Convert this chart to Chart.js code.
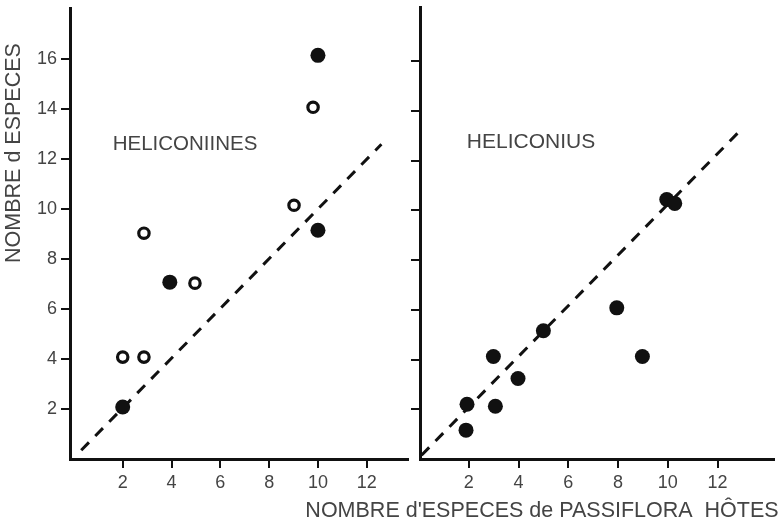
<!DOCTYPE html>
<html>
<head>
<meta charset="utf-8">
<script src="https://cdn.jsdelivr.net/npm/chart.js@4"></script>
<style>
  html, body { margin: 0; padding: 0; background: #fff; }
  #wrap { position: relative; width: 781px; height: 525px; }
  #wrap canvas { position: absolute; left: 0; top: 0; }
</style>
</head>
<body>
<div id="wrap">
  <canvas id="leftChart" width="781" height="525"></canvas>
  <canvas id="rightChart" width="781" height="525"></canvas>
</div>
<script>
// Heliconiines: filled and open circles
const leftFilledX = [2, 3.93, 10, 10];
const leftFilledY = [2.08, 7.08, 16.16, 9.16];
const leftOpenX = [2, 2.87, 2.87, 4.96, 9.02, 9.8];
const leftOpenY = [4.08, 4.08, 9.04, 7.04, 10.16, 14.08];
const leftLineX = [0.3, 12.6];
const leftLineY = [0.35, 12.6];

// Heliconius
const rightX = [1.89, 1.93, 3.07, 2.99, 3.98, 5, 7.95, 8.98, 9.96, 10.28];
const rightY = [1.16, 2.2, 2.12, 4.12, 3.24, 5.16, 6.08, 4.12, 10.44, 10.28];
const rightLineX = [0.1, 13];
const rightLineY = [0.15, 13.3];

const xTicks = [2, 4, 6, 8, 10, 12];
const yTicks = [2, 4, 6, 8, 10, 12, 14, 16];

const ink = '#111';
const textColor = '#444';
const fontFamily = '"Liberation Sans", Arial, sans-serif';

function toPoints(xs, ys) {
    return xs.map((x, i) => ({ x: x, y: ys[i] }));
}

function setTicks(values) {
    return function(scale) {
        scale.ticks = values.map(v => ({ value: v }));
    };
}

function axis(opts) {
    return Object.assign({
        type: 'linear',
        grid: { drawOnChartArea: false, drawTicks: true, tickLength: 9, lineWidth: 2, color: ink },
        border: { display: true, width: 3, color: ink },
        ticks: { color: textColor, font: { family: fontFamily, size: 18 }, padding: 4 }
    }, opts);
}

// draws free text at fixed spots
function textPlugin(items) {
    return {
        id: 'texts',
        afterDraw(chart) {
            const ctx = chart.ctx;
            ctx.save();
            ctx.fillStyle = textColor;
            items.forEach(t => {
                ctx.save();
                ctx.font = t.size + 'px ' + fontFamily;
                ctx.textAlign = 'center';
                ctx.textBaseline = 'middle';
                ctx.translate(t.x, t.y);
                if (t.rotate) ctx.rotate(t.rotate);
                ctx.fillText(t.text, 0, 0);
                ctx.restore();
            });
            ctx.restore();
        }
    };
}

const lineStyle = {
    showLine: true, borderColor: ink, borderWidth: 3, borderDash: [11, 9],
    pointRadius: 0, fill: false, order: 2
};

new Chart(document.getElementById('leftChart'), {
    type: 'scatter',
    data: {
        datasets: [
            Object.assign({ data: toPoints(leftLineX, leftLineY) }, lineStyle),
            { data: toPoints(leftFilledX, leftFilledY), pointRadius: 7.5, backgroundColor: ink, borderWidth: 0, order: 1 },
            { data: toPoints(leftOpenX, leftOpenY), pointRadius: 5.2, backgroundColor: '#fff', borderColor: ink, borderWidth: 3.2, order: 1 }
        ]
    },
    options: {
        responsive: false,
        animation: false,
        layout: { padding: { left: 0, top: 8, right: 373, bottom: 0 } },
        plugins: { legend: { display: false }, tooltip: { enabled: false } },
        scales: {
            x: axis({
                min: -0.16, max: 13.69,
                afterBuildTicks: setTicks(xTicks),
                afterFit(s) { s.height = 66; s.paddingLeft = 0; s.paddingRight = 0; }
            }),
            y: axis({
                min: 0, max: 18.04,
                afterBuildTicks: setTicks(yTicks),
                afterFit(s) { s.width = 70; s.paddingTop = 0; s.paddingBottom = 0; }
            })
        }
    },
    plugins: [textPlugin([
        { text: 'HELICONIINES', x: 185, y: 144, size: 20.5 },
        { text: 'NOMBRE d ESPECES', x: 14, y: 153, size: 21.5, rotate: -Math.PI / 2 }
    ])]
});

new Chart(document.getElementById('rightChart'), {
    type: 'scatter',
    data: {
        datasets: [
            Object.assign({ data: toPoints(rightLineX, rightLineY) }, lineStyle),
            { data: toPoints(rightX, rightY), pointRadius: 7.5, backgroundColor: ink, borderWidth: 0, order: 1 }
        ]
    },
    options: {
        responsive: false,
        animation: false,
        layout: { padding: { left: 400, top: 5, right: 0, bottom: 0 } },
        plugins: { legend: { display: false }, tooltip: { enabled: false } },
        scales: {
            x: axis({
                min: 0.04, max: 14.25,
                afterBuildTicks: setTicks(xTicks),
                afterFit(s) { s.height = 66; s.paddingLeft = 0; s.paddingRight = 0; }
            }),
            y: axis({
                min: 0, max: 18.16,
                afterBuildTicks: setTicks(yTicks),
                ticks: { callback: () => '' },
                afterFit(s) { s.width = 20; s.paddingTop = 0; s.paddingBottom = 0; }
            })
        }
    },
    plugins: [textPlugin([
        { text: 'HELICONIUS', x: 531, y: 142, size: 21 },
        { text: "NOMBRE d'ESPECES de PASSIFLORA  HÔTES", x: 542, y: 511, size: 21.5 }
    ])]
});
</script>
</body>
</html>
